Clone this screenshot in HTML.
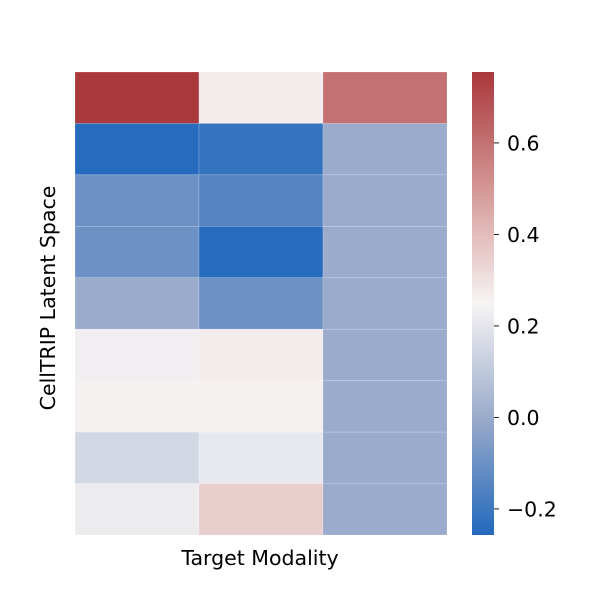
<!DOCTYPE html>
<html><head><meta charset="utf-8"><style>
body{margin:0;background:#fff;font-family:"DejaVu Sans","Liberation Sans",sans-serif;}
</style></head><body>
<svg id="chart" width="600" height="600" xmlns="http://www.w3.org/2000/svg" font-family="DejaVu Sans, Liberation Sans, sans-serif">
<defs><linearGradient id="cbg" x1="0" y1="1" x2="0" y2="0"></linearGradient></defs>
<g id="cells"></g>
<g id="cbar"></g>
<text x="260" y="565" font-size="20.5" text-anchor="middle" fill="#000">Target Modality</text>
<text x="0" y="0" font-size="20.5" text-anchor="middle" fill="#000" transform="translate(55,298) rotate(-90)">CellTRIP Latent Space</text>
</svg>
<script>
const values = [
 [0.75, 0.27, 0.60],
 [-0.25, -0.22, 0.00],
 [-0.10, -0.15, 0.00],
 [-0.10, -0.25, 0.00],
 [0.00, -0.10, 0.00],
 [0.23, 0.27, 0.00],
 [0.26, 0.26, 0.00],
 [0.15, 0.21, 0.00],
 [0.22, 0.35, 0.00]
];
const cbTicks = [-0.2, 0.0, 0.2, 0.4, 0.6];
const cbLabels = ["\u22120.2", "0.0", "0.2", "0.4", "0.6"];
const vmin = -0.257, vmax = 0.755;
const X0 = 75, X1 = 447, Y0 = 72, Y1 = 535;
const stops = [[0,[35,105,189]],[0.25,[152,170,202]],[0.5,[247,244,244]],[0.75,[212,150,148]],[1,[169,55,59]]];
function cmap(v){
  let t = Math.max(0, Math.min(1, (v - vmin) / (vmax - vmin)));
  for (let i = 1; i < stops.length; i++) {
    if (t <= stops[i][0]) {
      const a = stops[i-1], b = stops[i];
      const f = (t - a[0]) / (b[0] - a[0]);
      const c = a[1].map((x, k) => Math.round(x + (b[1][k] - x) * f));
      return `rgb(${c[0]},${c[1]},${c[2]})`;
    }
  }
  return 'rgb(169,55,59)';
}
const NS = "http://www.w3.org/2000/svg";
const nr = values.length, nc = values[0].length;
const cw = (X1 - X0) / nc, ch = (Y1 - Y0) / nr;
const cells = document.getElementById('cells');
values.forEach((row, r) => row.forEach((v, c) => {
  const el = document.createElementNS(NS, 'rect');
  el.setAttribute('x', X0 + c * cw); el.setAttribute('y', Y0 + r * ch);
  el.setAttribute('width', cw); el.setAttribute('height', ch);
  el.setAttribute('fill', cmap(v));
  el.setAttribute('stroke', 'rgba(255,255,255,0.3)'); el.setAttribute('stroke-width', '0.6');
  
  
  cells.appendChild(el);
}));
const g = document.getElementById('cbg');
for (let i = 0; i <= 20; i++) {
  const s = document.createElementNS(NS, 'stop');
  s.setAttribute('offset', i / 20);
  s.setAttribute('stop-color', cmap(vmin + (vmax - vmin) * i / 20));
  g.appendChild(s);
}
const CX0 = 472, CX1 = 494;
const cb = document.getElementById('cbar');
const bar = document.createElementNS(NS, 'rect');
bar.setAttribute('x', CX0); bar.setAttribute('y', Y0); bar.setAttribute('width', CX1 - CX0); bar.setAttribute('height', Y1 - Y0);
bar.setAttribute('fill', 'url(#cbg)');


cb.appendChild(bar);
const yv = v => Y1 - (v - vmin) / (vmax - vmin) * (Y1 - Y0);
cbTicks.forEach((t, i) => {
  const y = yv(t);
  const ln = document.createElementNS(NS, 'line');
  ln.setAttribute('x1', CX1); ln.setAttribute('x2', CX1 + 5); ln.setAttribute('y1', y); ln.setAttribute('y2', y);
  ln.setAttribute('stroke', '#000'); ln.setAttribute('stroke-width', '0.9');
  
  
  cb.appendChild(ln);
  const tx = document.createElementNS(NS, 'text');
  tx.setAttribute('x', CX1 + 13); tx.setAttribute('y', y + 7.5);
  tx.setAttribute('font-size', '20.5'); tx.setAttribute('fill', '#000');
  tx.textContent = cbLabels[i];
  
  
  cb.appendChild(tx);
});
</script>
</body></html>
